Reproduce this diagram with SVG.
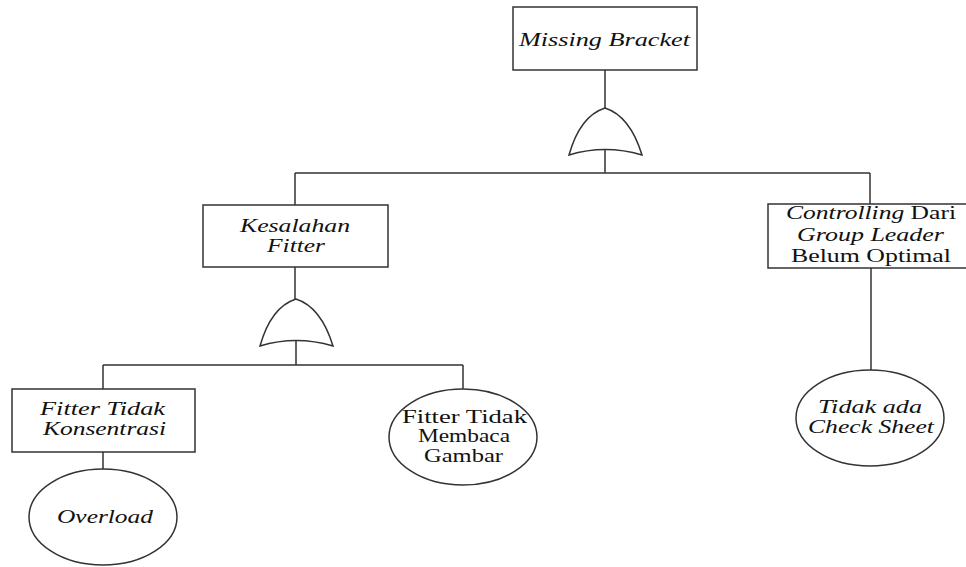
<svg xmlns="http://www.w3.org/2000/svg" width="966" height="567" viewBox="0 0 966 567">
<style>
.b{fill:#fff;stroke:#333;stroke-width:1.5}
.l{fill:none;stroke:#333;stroke-width:1.5}
text{font-family:"Liberation Serif","Times New Roman",serif;font-size:19px;fill:#111}
.i{font-style:italic}
</style>
<defs>
<path id="gate" d="M-36,47 Q-25,8 0,0 Q25,8 37,47 Q0,36 -36,47 Z"/>
</defs>
<rect width="966" height="567" fill="#fff"/>
<g id="connectors" class="l">
<path d="M605,70 V108 M605,150 V173 M295,173 H870 M295,173 V205 M870,173 V204"/>
<path d="M295,267 V299 M296,341 V365 M103,365 H463 M103,365 V389 M463,365 V389"/>
<path d="M871,268 V370 M103,452 V469"/>
</g>
<g id="top">
<rect class="b" x="513" y="7" width="184" height="63"/>
<text class="i" x="519" y="46" textLength="171" lengthAdjust="spacingAndGlyphs">Missing Bracket</text>
</g>
<g id="gate1"><use href="#gate" x="605" y="108" class="b"/></g>
<g id="kesalahan">
<rect class="b" x="203" y="205" width="185" height="62"/>
<text class="i" x="240" y="232" textLength="110" lengthAdjust="spacingAndGlyphs">Kesalahan</text>
<text class="i" x="267" y="252" textLength="58" lengthAdjust="spacingAndGlyphs">Fitter</text>
</g>
<g id="gate2"><use href="#gate" x="296" y="299" class="b"/></g>
<g id="controlling">
<rect class="b" x="768" y="204" width="200" height="64"/>
<text x="786" y="219" textLength="170" lengthAdjust="spacingAndGlyphs"><tspan class="i">Controlling</tspan> Dari</text>
<text class="i" x="797" y="241" textLength="147" lengthAdjust="spacingAndGlyphs">Group Leader</text>
<text x="791" y="262" textLength="160" lengthAdjust="spacingAndGlyphs">Belum Optimal</text>
</g>
<g id="konsentrasi">
<rect class="b" x="12" y="389" width="183" height="63"/>
<text class="i" x="40" y="415" textLength="125" lengthAdjust="spacingAndGlyphs">Fitter Tidak</text>
<text class="i" x="43" y="435" textLength="123" lengthAdjust="spacingAndGlyphs">Konsentrasi</text>
</g>
<g id="overload">
<ellipse class="b" cx="103" cy="517" rx="74" ry="48"/>
<text class="i" x="57" y="523" textLength="96" lengthAdjust="spacingAndGlyphs">Overload</text>
</g>
<g id="membaca">
<ellipse class="b" cx="463" cy="437" rx="74" ry="48"/>
<text x="402" y="423" textLength="125" lengthAdjust="spacingAndGlyphs">Fitter Tidak</text>
<text x="418" y="442" textLength="92" lengthAdjust="spacingAndGlyphs">Membaca</text>
<text x="424" y="462" textLength="79" lengthAdjust="spacingAndGlyphs">Gambar</text>
</g>
<g id="checksheet">
<ellipse class="b" cx="870" cy="418" rx="74" ry="48"/>
<text class="i" x="818" y="413" textLength="104" lengthAdjust="spacingAndGlyphs">Tidak ada</text>
<text class="i" x="808" y="433" textLength="126" lengthAdjust="spacingAndGlyphs">Check Sheet</text>
</g>
</svg>
